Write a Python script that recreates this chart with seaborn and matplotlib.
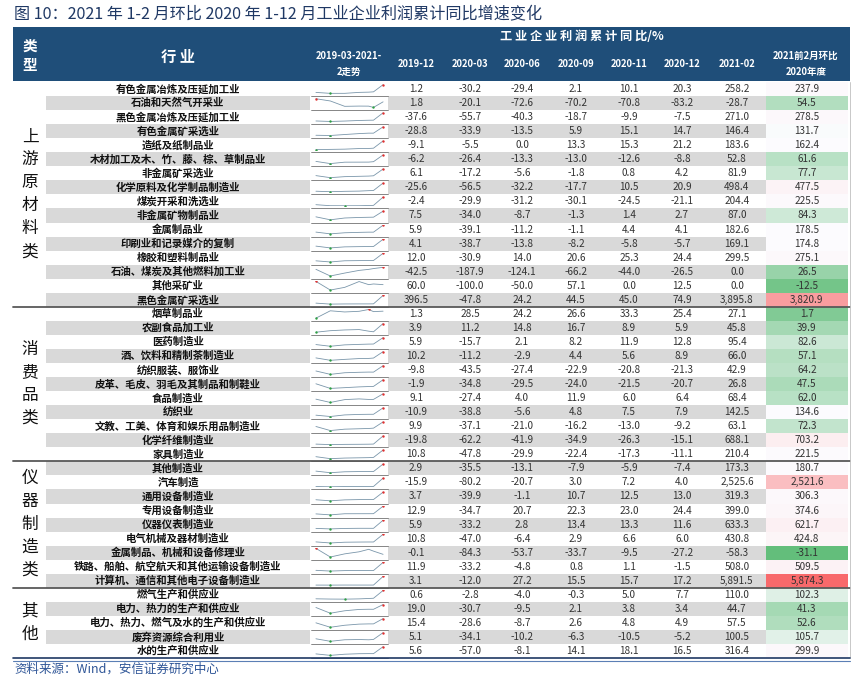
import numpy as np
import pandas as pd
import matplotlib
matplotlib.use("Agg")
import matplotlib.pyplot as plt
import seaborn as sns
from matplotlib.colors import LinearSegmentedColormap, TwoSlopeNorm
from matplotlib.patches import Rectangle

sns.set_theme(style="white")
plt.rcParams['font.family'] = ['Noto Sans CJK SC', 'DejaVu Sans']

# ---- data ----
groups = ["上游原材料类", "消费品类", "仪器制造类", "其他"]
group_sizes = [16, 11, 9, 5]

industries = [
    "有色金属冶炼及压延加工业", "石油和天然气开采业", "黑色金属冶炼及压延加工业", "有色金属矿采选业",
    "造纸及纸制品业", "木材加工及木、竹、藤、棕、草制品业", "非金属矿采选业", "化学原料及化学制品制造业",
    "煤炭开采和洗选业", "非金属矿物制品业", "金属制品业", "印刷业和记录媒介的复制",
    "橡胶和塑料制品业", "石油、煤炭及其他燃料加工业", "其他采矿业", "黑色金属矿采选业",
    "烟草制品业", "农副食品加工业", "医药制造业", "酒、饮料和精制茶制造业",
    "纺织服装、服饰业", "皮革、毛皮、羽毛及其制品和制鞋业", "食品制造业", "纺织业",
    "文教、工美、体育和娱乐用品制造业", "化学纤维制造业", "家具制造业",
    "其他制造业", "汽车制造", "通用设备制造业", "专用设备制造业", "仪器仪表制造业",
    "电气机械及器材制造业", "金属制品、机械和设备修理业", "铁路、船舶、航空航天和其他运输设备制造业",
    "计算机、通信和其他电子设备制造业",
    "燃气生产和供应业", "电力、热力的生产和供应业", "电力、热力、燃气及水的生产和供应业",
    "废弃资源综合利用业", "水的生产和供应业",
]

months = ["2019-12", "2020-03", "2020-06", "2020-09", "2020-11", "2020-12", "2021-02"]
month_pos = [9, 12, 15, 18, 20, 21, 23]  # months after 2019-03

v2019_12 = [1.2, 1.8, -37.6, -28.8, -9.1, -6.2, 6.1, -25.6, -2.4, 7.5, 5.9, 4.1, 12.0, -42.5, 60.0, 396.5,
            1.3, 3.9, 5.9, 10.2, -9.8, -1.9, 9.1, -10.9, 9.9, -19.8, 10.8,
            2.9, -15.9, 3.7, 12.9, 5.9, 10.8, -0.1, 11.9, 3.1,
            0.6, 19.0, 15.4, 5.1, 5.6]
v2020_03 = [-30.2, -20.1, -55.7, -33.9, -5.5, -26.4, -17.2, -56.5, -29.9, -34.0, -39.1, -38.7, -30.9, -187.9, -100.0, -47.8,
            28.5, 11.2, -15.7, -11.2, -43.5, -34.8, -27.4, -38.8, -37.1, -62.2, -47.8,
            -35.5, -80.2, -39.9, -34.7, -33.2, -47.0, -84.3, -33.2, -12.0,
            -2.8, -30.7, -28.6, -34.1, -57.0]
v2020_06 = [-29.4, -72.6, -40.3, -13.5, 0.0, -13.3, -5.6, -32.2, -31.2, -8.7, -11.2, -13.8, 14.0, -124.1, -50.0, 24.2,
            24.2, 14.8, 2.1, -2.9, -27.4, -29.5, 4.0, -5.6, -21.0, -41.9, -29.9,
            -13.1, -20.7, -1.1, 20.7, 2.8, -6.4, -53.7, -4.8, 27.2,
            -4.0, -9.5, -8.7, -10.2, -8.1]
v2020_09 = [2.1, -70.2, -18.7, 5.9, 13.3, -13.0, -1.8, -17.7, -30.1, -1.3, -1.1, -8.2, 20.6, -66.2, 57.1, 44.5,
            26.6, 16.7, 8.2, 4.4, -22.9, -24.0, 11.9, 4.8, -16.2, -34.9, -22.4,
            -7.9, 3.0, 10.7, 22.3, 13.4, 2.9, -33.7, 0.8, 15.5,
            -0.3, 2.1, 2.6, -6.3, 14.1]
v2020_11 = [10.1, -70.8, -9.9, 15.1, 15.3, -12.6, 0.8, 10.5, -24.5, 1.4, 4.4, -5.8, 25.3, -44.0, 0.0, 45.0,
            33.3, 8.9, 11.9, 5.6, -20.8, -21.5, 6.0, 7.5, -13.0, -26.3, -17.3,
            -5.9, 7.2, 12.5, 23.0, 13.3, 6.6, -9.5, 1.1, 15.7,
            5.0, 3.8, 4.8, -10.5, 18.1]
v2020_12 = [20.3, -83.2, -7.5, 14.7, 21.2, -8.8, 4.2, 20.9, -21.1, 2.7, 4.1, -5.7, 24.4, -26.5, 12.5, 74.9,
            25.4, 5.9, 12.8, 8.9, -21.3, -20.7, 6.4, 7.9, -9.2, -15.1, -11.1,
            -7.4, 4.0, 13.0, 24.4, 11.6, 6.0, -27.2, -1.5, 17.2,
            7.7, 3.4, 4.9, -5.2, 16.5]
v2021_02 = [258.2, -28.7, 271.0, 146.4, 183.6, 52.8, 81.9, 498.4, 204.4, 87.0, 182.6, 169.1, 299.5, 0.0, 0.0, 3895.8,
            27.1, 45.8, 95.4, 66.0, 42.9, 26.8, 68.4, 142.5, 63.1, 688.1, 210.4,
            173.3, 2525.6, 319.3, 399.0, 633.3, 430.8, -58.3, 508.0, 5891.5,
            110.0, 44.7, 57.5, 100.5, 316.4]
change = [237.9, 54.5, 278.5, 131.7, 162.4, 61.6, 77.7, 477.5, 225.5, 84.3, 178.5, 174.8, 275.1, 26.5, -12.5, 3820.9,
          1.7, 39.9, 82.6, 57.1, 64.2, 47.5, 62.0, 134.6, 72.3, 703.2, 221.5,
          180.7, 2521.6, 306.3, 374.6, 621.7, 424.8, -31.1, 509.5, 5874.3,
          102.3, 41.3, 52.6, 105.7, 299.9]

series = [v2019_12, v2020_03, v2020_06, v2020_09, v2020_11, v2020_12, v2021_02]

# ---- layout (pixels) ----
W, H = 864, 682
fig = plt.figure(figsize=(W / 100, H / 100), dpi=100)
ax = fig.add_axes([0, 0, 1, 1])
ax.set_xlim(0, W)
ax.set_ylim(H, 0)
ax.axis("off")


def frect(x0, y0, x1, y1):
    return [x0 / W, 1 - y1 / H, (x1 - x0) / W, (y1 - y0) / H]


navy = "#1F4E79"
left, right = 13, 850
head_top, head_bot = 27, 81
row_top = 82
row_h = 14.05
n = len(industries)
body_bot = row_top + n * row_h
col_x = [416, 470, 522, 576, 629, 682, 737]
fin_x0, fin_x1 = 766, 848

ax.text(14, 15, "图 10：2021 年 1-2 月环比 2020 年 1-12 月工业企业利润累计同比增速变化",
        fontsize=11.6, color="#1F3864", va="center", ha="left")

# header
ax.add_patch(Rectangle((left, head_top), right - left, head_bot - head_top, color=navy, lw=0))
hkw = dict(color="white", ha="center", va="center", fontweight="bold")
ax.text(30, 46, "类", fontsize=10.5, **hkw)
ax.text(30, 65, "型", fontsize=10.5, **hkw)
ax.text(178, 57, "行 业", fontsize=11, **hkw)
ax.text(349, 56, "2019-03-2021-", fontsize=6.8, **hkw)
ax.text(349, 72, "2走势", fontsize=6.8, **hkw)
ax.text(582, 37, "工 业 企 业 利 润 累 计 同 比/%", fontsize=8.8, **hkw)
for x, m in zip(col_x, months):
    ax.text(x, 64, m, fontsize=6.8, **hkw)
ax.text(806, 56, "2021前2月环比", fontsize=6.8, **hkw)
ax.text(806, 72, "2020年度", fontsize=6.8, **hkw)

# body rows
for i, name in enumerate(industries):
    y0 = row_top + i * row_h
    yc = y0 + row_h / 2
    if i % 2 == 1:
        ax.add_patch(Rectangle((46, y0), 310 - 46, row_h, color="#D9D9D9", lw=0))
        ax.add_patch(Rectangle((388, y0), fin_x0 - 388, row_h, color="#D9D9D9", lw=0))
    ax.text(178, yc, name, fontsize=7.5, ha="center", va="center", color="#111111", fontweight="bold")
    for x, s in zip(col_x, series):
        ax.text(x, yc, f"{s[i]:,.1f}", fontsize=7.2, ha="center", va="center", color="#333333")
    ax.plot([311, 388], [y0 + row_h, y0 + row_h], color="#555555", lw=0.5)

# group labels
start = 0
for g, size in zip(groups, group_sizes):
    yc = row_top + (start + size / 2) * row_h
    chars = list(g)
    for k, ch in enumerate(chars):
        ax.text(30, yc + (k - (len(chars) - 1) / 2) * 23, ch, fontsize=12,
                ha="center", va="center", color="#111111")
    start += size

# sparklines
for i in range(n):
    y0 = row_top + i * row_h
    sax = fig.add_axes(frect(314, y0 + 2, 385, y0 + row_h - 2))
    vals = np.array([s[i] for s in series])
    sns.lineplot(x=month_pos, y=vals, ax=sax, color="#7A96AA", linewidth=0.6)
    imax, imin = int(np.argmax(vals)), int(np.argmin(vals))
    sax.scatter([month_pos[imax]], [vals[imax]], s=3, color="#E03030", zorder=3, lw=0)
    sax.scatter([month_pos[imin]], [vals[imin]], s=3, color="#2EA043", zorder=3, lw=0)
    pad = (vals.max() - vals.min()) * 0.08 + 1e-6
    sax.set_ylim(vals.min() - pad, vals.max() + pad)
    sax.set_xlim(8.6, 23.4)
    sax.set_axis_off()

# last column colour scale
df = pd.DataFrame({"change": change}, index=industries)
labels = np.array([[f"{v:,.1f}"] for v in change])
cmap = LinearSegmentedColormap.from_list("gwr", ["#63BE7B", "#FCFCFF", "#F8696B"])
norm = TwoSlopeNorm(vmin=min(change), vcenter=float(np.median(change)), vmax=max(change))
hax = fig.add_axes(frect(fin_x0, row_top, fin_x1, body_bot))
sns.heatmap(df, ax=hax, cmap=cmap, norm=norm, annot=labels, fmt="", cbar=False,
            xticklabels=False, yticklabels=False,
            annot_kws=dict(fontsize=7.2, color="#333333"))
hax.set_xlabel("")
hax.set_ylabel("")

# overlay lines
oax = fig.add_axes([0, 0, 1, 1])
oax.set_xlim(0, W)
oax.set_ylim(H, 0)
oax.axis("off")
oax.patch.set_alpha(0)
start = 0
for size in group_sizes[:-1]:
    start += size
    y = row_top + start * row_h
    oax.plot([left, right], [y, y], color="#595959", lw=1.3)
oax.plot([right, right], [row_top, body_bot], color="#BFBFBF", lw=0.6)
oax.plot([left, right], [body_bot, body_bot], color="#1F3864", lw=1.2)
oax.plot([left, right], [body_bot + 3, body_bot + 3], color="#5B7FB5", lw=0.8)

ax.text(14, 669, "资料来源：Wind，安信证券研究中心", fontsize=9, color="#2E5597",
        ha="left", va="center", style="italic")

fig.savefig("out.png", dpi=100)
